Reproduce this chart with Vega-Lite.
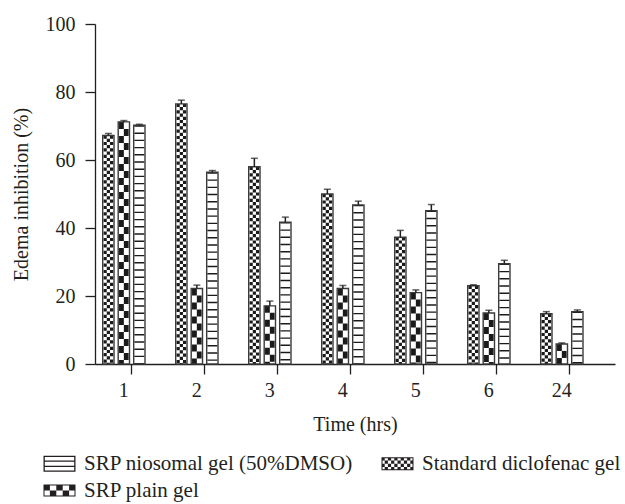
{
  "$schema": "https://vega.github.io/schema/vega-lite/v6.json",
  "width": 520,
  "height": 340,
  "autosize": {"type": "none"},
  "padding": {"left": 95, "top": 24, "right": 10, "bottom": 140},
  "background": "white",
  "config": {
    "font": "Liberation Serif",
    "view": {"stroke": null},
    "axis": {"labelFont": "Liberation Serif", "titleFont": "Liberation Serif", "labelFontSize": 20, "titleFontSize": 20, "titleFontWeight": "normal", "labelColor": "#231f20", "titleColor": "#231f20", "domainColor": "#231f20", "tickColor": "#231f20", "domainWidth": 1.3, "tickWidth": 1.3, "grid": false},
    "legend": {"labelFont": "Liberation Serif", "labelFontSize": 21, "labelColor": "#231f20"}
  },
  "resolve": {"scale": {"xOffset": "independent"}},
  "data": {"values": [
    {"time": "1", "series": "Standard diclofenac gel", "v": 67.2, "cap": 67.8},
    {"time": "1", "series": "SRP plain gel", "v": 71.2, "cap": 71.6},
    {"time": "1", "series": "SRP niosomal gel (50%DMSO)", "v": 70.2, "cap": 70.5},
    {"time": "2", "series": "Standard diclofenac gel", "v": 76.5, "cap": 77.6},
    {"time": "2", "series": "SRP plain gel", "v": 22.2, "cap": 23.2},
    {"time": "2", "series": "SRP niosomal gel (50%DMSO)", "v": 56.4, "cap": 56.9},
    {"time": "3", "series": "Standard diclofenac gel", "v": 58.0, "cap": 60.5},
    {"time": "3", "series": "SRP plain gel", "v": 17.1, "cap": 18.5},
    {"time": "3", "series": "SRP niosomal gel (50%DMSO)", "v": 41.7, "cap": 43.2},
    {"time": "4", "series": "Standard diclofenac gel", "v": 50.0, "cap": 51.4},
    {"time": "4", "series": "SRP plain gel", "v": 22.2, "cap": 23.1},
    {"time": "4", "series": "SRP niosomal gel (50%DMSO)", "v": 46.8, "cap": 47.9},
    {"time": "5", "series": "Standard diclofenac gel", "v": 37.3, "cap": 39.3},
    {"time": "5", "series": "SRP plain gel", "v": 21.0, "cap": 21.8},
    {"time": "5", "series": "SRP niosomal gel (50%DMSO)", "v": 45.1, "cap": 46.9},
    {"time": "6", "series": "Standard diclofenac gel", "v": 23.0, "cap": 23.3},
    {"time": "6", "series": "SRP plain gel", "v": 15.0, "cap": 15.8},
    {"time": "6", "series": "SRP niosomal gel (50%DMSO)", "v": 29.5, "cap": 30.5},
    {"time": "24", "series": "Standard diclofenac gel", "v": 14.8, "cap": 15.4},
    {"time": "24", "series": "SRP plain gel", "v": 5.9, "cap": 6.2},
    {"time": "24", "series": "SRP niosomal gel (50%DMSO)", "v": 15.4, "cap": 15.9}
  ]},
  "encoding": {
    "x": {"field": "time", "type": "ordinal", "sort": ["1", "2", "3", "4", "5", "6", "24"],
      "scale": {"paddingInner": 0.4205, "paddingOuter": 0.272, "align": 0.194},
      "axis": {"title": "Time (hrs)", "labelAngle": 0, "tickSize": 10, "labelPadding": 6, "titlePadding": 14, "bandPosition": 0.686}},
    "xOffset": {"field": "series", "type": "nominal",
      "scale": {"domain": ["Standard diclofenac gel", "SRP plain gel", "SRP niosomal gel (50%DMSO)"], "paddingInner": 0.27, "paddingOuter": 0}}
  },
  "layer": [
    {
      "mark": {"type": "point", "filled": true, "opacity": 0, "color": "#231f20", "size": 400},
      "encoding": {
        "y": {"datum": 0, "type": "quantitative", "scale": {"domain": [0, 100]},
          "axis": {"title": "Edema inhibition (%)", "values": [0, 20, 40, 60, 80, 100], "tickSize": 10, "labelPadding": 10, "titlePadding": 14}},
        "shape": {"field": "series", "type": "nominal",
          "scale": {"domain": ["SRP niosomal gel (50%DMSO)", "SRP plain gel", "Standard diclofenac gel"],
            "range": [
              "M-1.6,-0.8H1.6V-0.67H-1.6Z M-1.6,0.67H1.6V0.8H-1.6Z M-1.6,-0.8H-1.47V0.8H-1.6Z M1.47,-0.8H1.6V0.8H1.47Z M-1.6,-0.33H1.6V-0.2H-1.6Z M-1.6,0.2H1.6V0.33H-1.6Z",
              "M-1.6,-0.6H1.6V-0.5H-1.6Z M-1.6,0.5H1.6V0.6H-1.6Z M-1.6,-0.6H-1.5V0.6H-1.6Z M1.5,-0.6H1.6V0.6H1.5Z M-1.6,-0.6h0.64v0.6h-0.64Z M-0.32,-0.6h0.64v0.6h-0.64Z M0.96,-0.6h0.64v0.6h-0.64Z M-0.96,0h0.64v0.6h-0.64Z M0.32,0h0.64v0.6h-0.64Z",
              "M-1.6,-0.64H1.6V-0.54H-1.6Z M-1.6,0.54H1.6V0.64H-1.6Z M-1.6,-0.64H-1.5V0.64H-1.6Z M1.5,-0.64H1.6V0.64H1.5Z M-1.6,-0.64h0.32v0.32h-0.32Z M-0.96,-0.64h0.32v0.32h-0.32Z M-0.32,-0.64h0.32v0.32h-0.32Z M0.32,-0.64h0.32v0.32h-0.32Z M0.96,-0.64h0.32v0.32h-0.32Z M-1.28,-0.32h0.32v0.32h-0.32Z M-0.64,-0.32h0.32v0.32h-0.32Z M0,-0.32h0.32v0.32h-0.32Z M0.64,-0.32h0.32v0.32h-0.32Z M1.28,-0.32h0.32v0.32h-0.32Z M-1.6,0h0.32v0.32h-0.32Z M-0.96,0h0.32v0.32h-0.32Z M-0.32,0h0.32v0.32h-0.32Z M0.32,0h0.32v0.32h-0.32Z M0.96,0h0.32v0.32h-0.32Z M-1.28,0.32h0.32v0.32h-0.32Z M-0.64,0.32h0.32v0.32h-0.32Z M0,0.32h0.32v0.32h-0.32Z M0.64,0.32h0.32v0.32h-0.32Z M1.28,0.32h0.32v0.32h-0.32Z"
            ]},
          "legend": {"title": null, "orient": "none", "legendX": -46, "legendY": 429, "columns": 2, "columnPadding": 28, "rowPadding": 5, "symbolSize": 400, "symbolOpacity": 1, "symbolFillColor": "#231f20", "symbolStrokeWidth": 0, "labelOffset": 14, "padding": 0, "labelLimit": 400}}
      }
    },
    {
      "mark": {"type": "bar", "fill": "white", "strokeWidth": 0},
      "encoding": {"y": {"field": "v", "type": "quantitative"}, "y2": {"datum": 0}}
    },
    {
      "transform": [{"filter": "datum.series === 'SRP niosomal gel (50%DMSO)'"}],
      "mark": {"type": "rule", "color": "#1a1a1a", "strokeWidth": 10, "strokeDash": [1.4, 5.8], "strokeCap": "butt"},
      "encoding": {"y": {"field": "v", "type": "quantitative"}, "y2": {"datum": 0}}
    },
    {
      "transform": [{"filter": "datum.series === 'SRP plain gel'"}],
      "mark": {"type": "rule", "color": "#1a1a1a", "strokeWidth": 4.8, "strokeDash": [7, 7], "strokeCap": "butt"},
      "encoding": {
        "xOffset": {"field": "series", "type": "nominal", "scale": {"domain": ["Standard diclofenac gel", "SRP plain gel", "SRP niosomal gel (50%DMSO)"], "paddingInner": 0.9, "paddingOuter": 0.3154, "align": 0.2533}},
        "y": {"field": "v", "type": "quantitative"}, "y2": {"datum": 0}}
    },
    {
      "transform": [{"filter": "datum.series === 'SRP plain gel'"}],
      "mark": {"type": "rule", "color": "#1a1a1a", "strokeWidth": 4.8, "strokeDash": [7, 7], "strokeDashOffset": 7, "strokeCap": "butt"},
      "encoding": {
        "xOffset": {"field": "series", "type": "nominal", "scale": {"domain": ["Standard diclofenac gel", "SRP plain gel", "SRP niosomal gel (50%DMSO)"], "paddingInner": 0.9, "paddingOuter": 0.3154, "align": 0.7446}},
        "y": {"field": "v", "type": "quantitative"}, "y2": {"datum": 0}}
    },
    {
      "transform": [{"filter": "datum.series === 'Standard diclofenac gel'"}],
      "mark": {"type": "rule", "color": "#1a1a1a", "strokeWidth": 9.6, "strokeDash": [3.2, 3.2], "strokeCap": "butt"},
      "encoding": {"y": {"field": "v", "type": "quantitative"}, "y2": {"datum": 0}}
    },
    {
      "transform": [{"filter": "datum.series === 'Standard diclofenac gel'"}],
      "mark": {"type": "rule", "color": "white", "strokeWidth": 3.2, "strokeCap": "butt"},
      "encoding": {"y": {"field": "v", "type": "quantitative"}, "y2": {"datum": 0}}
    },
    {
      "transform": [{"filter": "datum.series === 'Standard diclofenac gel'"}],
      "mark": {"type": "rule", "color": "#1a1a1a", "strokeWidth": 3.2, "strokeDash": [3.2, 3.2], "strokeDashOffset": 3.2, "strokeCap": "butt"},
      "encoding": {"y": {"field": "v", "type": "quantitative"}, "y2": {"datum": 0}}
    },
    {
      "mark": {"type": "bar", "fill": "white", "fillOpacity": 0, "stroke": "#3a3a3a", "strokeWidth": 1.4},
      "encoding": {"y": {"field": "v", "type": "quantitative"}, "y2": {"datum": 0}}
    },
    {
      "mark": {"type": "rule", "color": "#231f20", "strokeWidth": 1.5},
      "encoding": {"y": {"field": "v", "type": "quantitative"}, "y2": {"field": "cap"}}
    },
    {
      "mark": {"type": "tick", "color": "#231f20", "orient": "horizontal", "size": 7, "thickness": 1.5},
      "encoding": {"y": {"field": "cap", "type": "quantitative"}}
    }
  ]
}
